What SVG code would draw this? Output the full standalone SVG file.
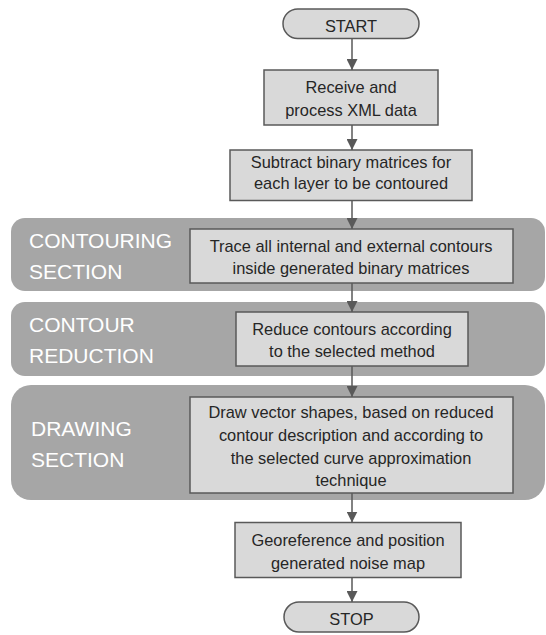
<svg xmlns="http://www.w3.org/2000/svg" width="546" height="635" viewBox="0 0 546 635">
<style>
.band{fill:#a6a6a6;stroke:none}
.lbl{font-family:"Liberation Sans",Arial,sans-serif;font-size:21px;fill:#ffffff}
.box{fill:#d9d9d9;stroke:#595959;stroke-width:1.5}
.term{fill:#d9d9d9;stroke:#595959;stroke-width:1.5}
.t{font-family:"Liberation Sans",Arial,sans-serif;font-size:16.4px;fill:#262626;text-anchor:middle}
.con{stroke:#595959;stroke-width:1.5;fill:none;marker-end:url(#ah)}
</style>
<defs>
<marker id="ah" viewBox="0 0 10 10" refX="10" refY="5" markerWidth="11" markerHeight="11" markerUnits="userSpaceOnUse" orient="auto">
<path d="M0,0 L10,5 L0,10 z" fill="#595959"/>
</marker>
</defs>
<rect width="546" height="635" fill="#ffffff"/>
<g id="band-contouring">
<rect class="band" x="11" y="218" width="534" height="73" rx="14"/>
<text class="lbl" x="29" y="248">CONTOURING</text>
<text class="lbl" x="29" y="279">SECTION</text>
</g>
<g id="band-reduction">
<rect class="band" x="11" y="302" width="534" height="74" rx="14"/>
<text class="lbl" x="29" y="332">CONTOUR</text>
<text class="lbl" x="29" y="363">REDUCTION</text>
</g>
<g id="band-drawing">
<rect class="band" x="11" y="385" width="534" height="115" rx="20"/>
<text class="lbl" x="31" y="436">DRAWING</text>
<text class="lbl" x="31" y="467">SECTION</text>
</g>
<g id="connectors">
<line class="con" x1="352" y1="38.5" x2="352" y2="70"/>
<line class="con" x1="352" y1="125" x2="352" y2="150"/>
<line class="con" x1="352" y1="200.5" x2="352" y2="229"/>
<line class="con" x1="352" y1="283" x2="352" y2="312"/>
<line class="con" x1="352" y1="366" x2="352" y2="397"/>
<line class="con" x1="352" y1="493" x2="352" y2="522.5"/>
<line class="con" x1="352" y1="577.5" x2="352" y2="602"/>
</g>
<g id="start">
<rect class="term" x="283" y="9" width="136" height="29.5" rx="14.75"/>
<text class="t" x="351" y="32">START</text>
</g>
<g id="receive">
<rect class="box" x="264" y="70" width="174" height="55"/>
<text class="t" x="351" y="93">Receive and</text>
<text class="t" x="351" y="115.5">process XML data</text>
</g>
<g id="subtract">
<rect class="box" x="230" y="150" width="242" height="50.5"/>
<text class="t" x="351" y="168">Subtract binary matrices for</text>
<text class="t" x="351" y="189">each layer to be contoured</text>
</g>
<g id="trace">
<rect class="box" x="190" y="229" width="323" height="54"/>
<text class="t" x="351" y="252">Trace all internal and external contours</text>
<text class="t" x="351" y="274">inside generated binary matrices</text>
</g>
<g id="reduce">
<rect class="box" x="236" y="312" width="232" height="54"/>
<text class="t" x="352" y="335">Reduce contours according</text>
<text class="t" x="352" y="357">to the selected method</text>
</g>
<g id="draw">
<rect class="box" x="190" y="397" width="323" height="96"/>
<text class="t" x="351" y="417.5">Draw vector shapes, based on reduced</text>
<text class="t" x="351" y="440.5">contour description and according to</text>
<text class="t" x="351" y="463.5">the selected curve approximation</text>
<text class="t" x="351" y="486">technique</text>
</g>
<g id="georeference">
<rect class="box" x="235" y="522.5" width="226" height="55"/>
<text class="t" x="348" y="546">Georeference and position</text>
<text class="t" x="348" y="568.5">generated noise map</text>
</g>
<g id="stop">
<rect class="term" x="284" y="602" width="135" height="30" rx="15"/>
<text class="t" x="351.5" y="624.5">STOP</text>
</g>
</svg>
